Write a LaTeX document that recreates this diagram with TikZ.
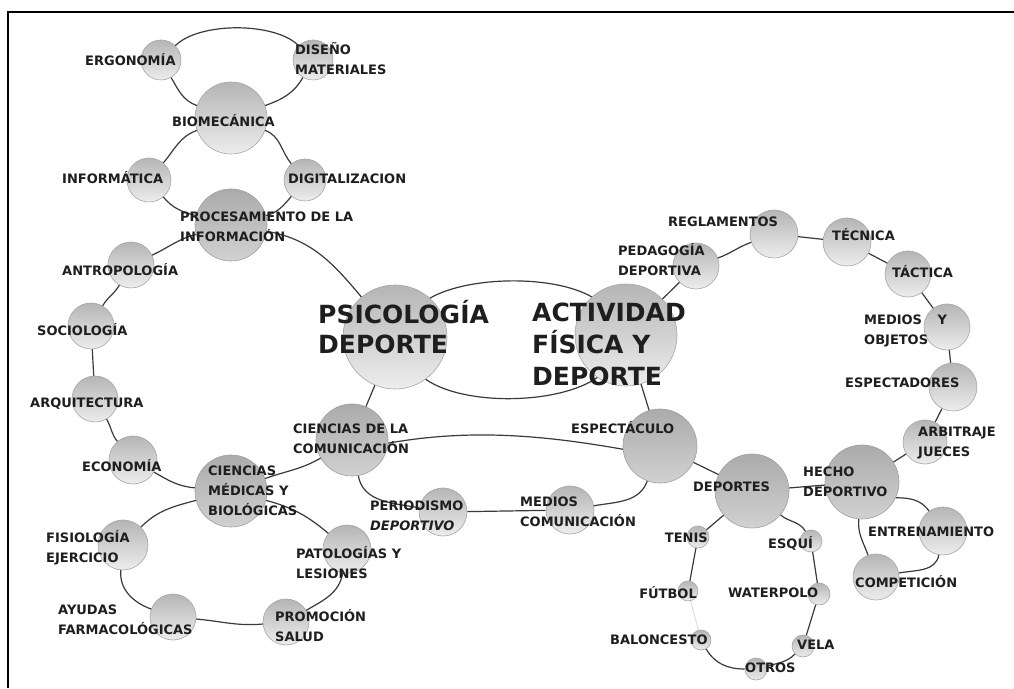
\documentclass[tikz,border=0pt]{standalone}
\usepackage{fontspec}
\newfontfamily\labff{DejaVu Sans}
\definecolor{txt}{HTML}{1E1E1E}
\definecolor{lnk}{HTML}{3A3A3A}
\tikzset{
  ball/.style={circle, draw=gray!70, line width=0.6pt, top color=gray!58, bottom color=gray!14, inner sep=0pt, minimum size=#1},
  dball/.style={circle, draw=gray!75, line width=0.6pt, top color=gray!66, bottom color=gray!36, inner sep=0pt, minimum size=#1},
  lab/.style={inner sep=0pt, align=left, text=txt, font=\labff\bfseries\fontsize{13}{20}\selectfont},
  big/.style={inner sep=0pt, align=left, text=txt, font=\labff\bfseries\fontsize{25}{30}\selectfont},
  link/.style={draw=lnk, line width=1.2pt},
  faint/.style={draw=gray!25, line width=1pt}
}
\begin{document}
\begin{tikzpicture}[x=1pt,y=1pt]
\useasboundingbox (0,0) rectangle (1014,688);
\fill[white] (0,0) rectangle (1014,688);
\draw[line width=2.5pt] (8,0) -- (8,676) -- (1014,676);
% circles
\node[ball=40pt] (ergo) at (161,628) {};
\node[ball=40pt] (dise) at (313,628) {};
\node[ball=72pt] (biom) at (231,570) {};
\node[ball=44pt] (info) at (149,508) {};
\node[ball=42pt] (digi) at (305,508) {};
\node[dball=72pt] (proc) at (231,463) {};
\node[ball=46pt] (antr) at (131,423) {};
\node[ball=46pt] (soci) at (91,362) {};
\node[ball=46pt] (arqu) at (95,289) {};
\node[ball=48pt] (econ) at (133,228) {};
\node[ball=104pt] (psic) at (395,351) {};
\node[dball=72pt] (cien) at (352,248) {};
\node[dball=72pt] (cmed) at (231,197) {};
\node[ball=50pt] (fisi) at (123,143) {};
\node[ball=46pt] (ayud) at (173,71) {};
\node[ball=46pt] (prom) at (286,66) {};
\node[ball=48pt] (pato) at (347,139) {};
\node[ball=48pt] (peri) at (443,176) {};
\node[ball=48pt] (medi) at (570,178) {};
\node[ball=102pt] (acti) at (626,353) {};
\node[dball=74pt] (espe) at (660,242) {};
\node[ball=46pt] (peda) at (696,422) {};
\node[ball=48pt] (regl) at (774,454) {};
\node[ball=48pt] (tecn) at (847,446) {};
\node[ball=46pt] (tact) at (908,414) {};
\node[ball=46pt] (mobj) at (947,361) {};
\node[ball=48pt] (espc) at (953,301) {};
\node[ball=44pt] (arbi) at (925,246) {};
\node[dball=74pt] (hech) at (862,206) {};
\node[dball=74pt] (depo) at (752,197) {};
\node[ball=48pt] (entr) at (943,157) {};
\node[ball=46pt] (comp) at (876,111) {};
\node[ball=22pt] (teni) at (698,151) {};
\node[ball=22pt] (esqu) at (811,147) {};
\node[ball=20pt] (futb) at (688,97) {};
\node[ball=22pt] (wate) at (819,94) {};
\node[ball=20pt] (balo) at (701,48) {};
\node[ball=22pt] (vela) at (803,42) {};
\node[ball=22pt] (otro) at (756,19) {};
% connectors
\draw[link] (ergo) to[out=45,in=135,looseness=0.7] (dise);
\draw[link] (ergo) to[out=-60,in=160] (biom);
\draw[link] (biom) to[out=20,in=-120] (dise);
\draw[link] (info) to[out=50,in=200] (biom);
\draw[link] (biom) to[out=-20,in=130] (digi);
\draw[link] (info) to[out=-50,in=165] (proc);
\draw[link] (proc) to[out=15,in=-130] (digi);
\draw[link] (proc) to[out=-10,in=130] (psic);
\draw[link] (proc) to[out=195,in=25] (antr);
\draw[link] (antr) to[out=240,in=60] (soci);
\draw[link] (soci) -- (arqu);
\draw[link] (arqu) to[out=-60,in=130] (econ);
\draw[link] (econ) to[out=-30,in=175] (cmed);
\draw[link] (cmed) to[out=20,in=210] (cien);
\draw[link] (psic) -- (cien);
\draw[link] (cmed) to[out=195,in=45] (fisi);
\draw[link] (fisi) to[out=-95,in=160] (ayud);
\draw[link] (ayud) to[out=-5,in=185] (prom);
\draw[link] (prom) to[out=30,in=-100] (pato);
\draw[link] (pato) to[out=140,in=-15] (cmed);
\draw[link] (psic.48) to[out=30,in=150,looseness=0.7] (acti.132);
\draw[link] (psic.-54) to[out=-35,in=-145,looseness=0.7] (acti.-124);
\draw[link] (cien.-5) to[out=10,in=170,looseness=0.9] (espe.185);
\draw[link] (cien) to[out=-80,in=170] (peri);
\draw[link] (peri) -- (medi);
\draw[link] (medi) to[out=10,in=-110] (espe);
\draw[link] (acti) -- (peda);
\draw[link] (peda) to[out=20,in=200] (regl);
\draw[link] (regl) -- (tecn);
\draw[link] (tecn) -- (tact);
\draw[link] (tact) -- (mobj);
\draw[link] (mobj) -- (espc);
\draw[link] (espc) -- (arbi);
\draw[link] (arbi) -- (hech);
\draw[link] (hech) -- (depo);
\draw[link] (espe) -- (depo);
\draw[link] (acti) -- (espe);
\draw[link] (hech.-25) to[out=0,in=125] (entr.125);
\draw[link] (entr) to[out=-100,in=10] (comp);
\draw[link] (hech) to[out=-95,in=110] (comp);
\draw[link] (depo) -- (teni);
\draw[link] (teni) -- (futb);
\draw[faint] (futb) -- (balo);
\draw[link] (balo) to[out=-60,in=180] (otro);
\draw[link] (otro) to[out=15,in=225] (vela);
\draw[link] (vela) -- (wate);
\draw[link] (wate) -- (esqu);
\draw[link] (depo) to[out=-40,in=120] (esqu);
% labels
\node[lab,anchor=west] (l-ergo) at (85,628) {ERGONOMÍA};
\node[lab,anchor=west] (l-dise) at (295,629) {DISEÑO\\MATERIALES};
\node[lab,anchor=west] (l-biom) at (172,567) {BIOMECÁNICA};
\node[lab,anchor=west] (l-info) at (62,510) {INFORMÁTICA};
\node[lab,anchor=west] (l-digi) at (288,509) {DIGITALIZACION};
\node[lab,anchor=west] (l-proc) at (180,461) {PROCESAMIENTO DE LA\\INFORMACIÓN};
\node[lab,anchor=west] (l-antr) at (62,418) {ANTROPOLOGÍA};
\node[lab,anchor=west] (l-soci) at (37,358) {SOCIOLOGÍA};
\node[lab,anchor=west] (l-arqu) at (30,284) {ARQUITECTURA};
\node[lab,anchor=west] (l-econ) at (82,222) {ECONOMÍA};
\node[lab,anchor=west] (l-cmed) at (208,197) {CIENCIAS\\MÉDICAS Y\\BIOLÓGICAS};
\node[lab,anchor=west] (l-cien) at (293,249) {CIENCIAS DE LA\\COMUNICACIÓN};
\node[lab,anchor=west] (l-fisi) at (46,140) {FISIOLOGÍA\\EJERCICIO};
\node[lab,anchor=west] (l-pato) at (296,125) {PATOLOGÍAS Y\\LESIONES};
\node[lab,anchor=west] (l-ayud) at (58,68) {AYUDAS\\FARMACOLÓGICAS};
\node[lab,anchor=west] (l-prom) at (275,62) {PROMOCIÓN\\SALUD};
\node[lab,anchor=west] (l-peri) at (370,172) {PERIODISMO\\\textit{DEPORTIVO}};
\node[lab,anchor=west] (l-medi) at (520,176) {MEDIOS\\COMUNICACIÓN};
\node[lab,anchor=west] (l-espe) at (571,260) {ESPECTÁCULO};
\node[lab,anchor=west] (l-peda) at (618,428) {PEDAGOGÍA\\DEPORTIVA};
\node[lab,anchor=west] (l-regl) at (668,466) {REGLAMENTOS};
\node[lab,anchor=west] (l-tecn) at (832,453) {TÉCNICA};
\node[lab,anchor=west] (l-tact) at (892,416) {TÁCTICA};
\node[lab,anchor=west] (l-mobj) at (864,357) {MEDIOS\hspace{1.2em}Y\\OBJETOS};
\node[lab,anchor=west] (l-espc) at (845,305) {ESPECTADORES};
\node[lab,anchor=west] (l-arbi) at (918,245) {ARBITRAJE\\JUECES};
\node[lab,anchor=west] (l-hech) at (803,206) {HECHO\\DEPORTIVO};
\node[lab,anchor=west] (l-depo) at (693,201) {DEPORTES};
\node[lab,anchor=west] (l-entr) at (868,156) {ENTRENAMIENTO};
\node[lab,anchor=west] (l-comp) at (855,106) {COMPETICIÓN};
\node[lab,anchor=east] (l-teni) at (708,150) {TENIS};
\node[lab,anchor=west] (l-esqu) at (768,145) {ESQUÍ};
\node[lab,anchor=east] (l-futb) at (697,95) {FÚTBOL};
\node[lab,anchor=west] (l-wate) at (728,95) {WATERPOLO};
\node[lab,anchor=west] (l-balo) at (610,48) {BALONCESTO};
\node[lab,anchor=west] (l-vela) at (797,43) {VELA};
\node[lab,anchor=west] (l-otro) at (745,20) {OTROS};
\node[big,anchor=west] (l-psic) at (318,361) {PSICOLOGÍA\\DEPORTE};
\node[big,anchor=west,font=\labff\bfseries\fontsize{25}{32}\selectfont] (l-acti) at (532,344) {ACTIVIDAD\\FÍSICA Y\\DEPORTE};
\end{tikzpicture}
\end{document}
